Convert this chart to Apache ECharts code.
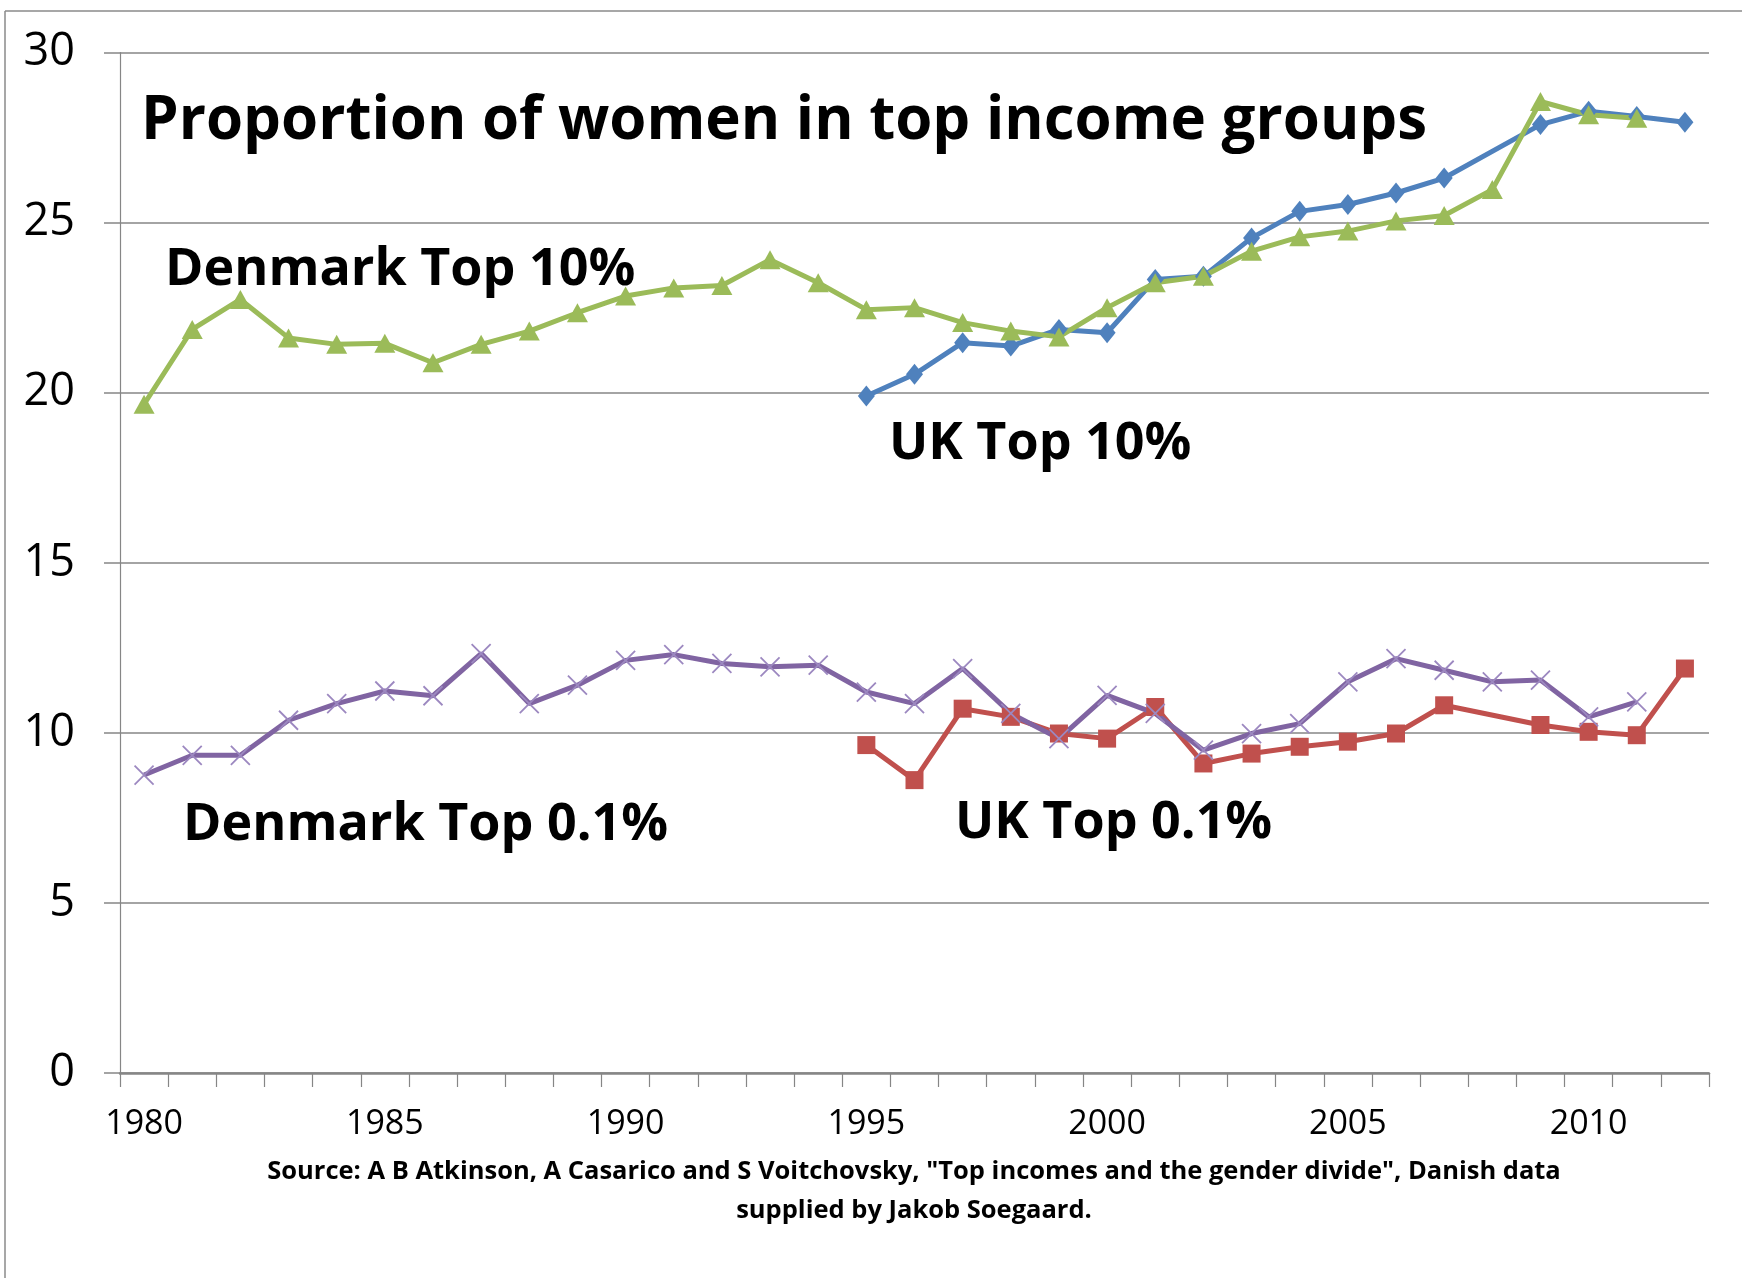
<!DOCTYPE html>
<html><head><meta charset="utf-8">
<script src="https://cdn.jsdelivr.net/npm/echarts@6/dist/echarts.min.js"></script>
<style>html,body{margin:0;padding:0;background:#fff}#c{width:1742px;height:1278px}</style>
</head><body><div id="c"></div>
<script>
const years = ['1980','1981','1982','1983','1984','1985','1986','1987','1988','1989','1990','1991','1992','1993','1994','1995','1996','1997','1998','1999','2000','2001','2002','2003','2004','2005','2006','2007','2008','2009','2010','2011','2012'];
const denmarkTop10 = [19.66,21.86,22.74,21.61,21.42,21.45,20.88,21.42,21.81,22.35,22.84,23.08,23.15,23.91,23.23,22.44,22.5,22.06,21.81,21.64,22.5,23.23,23.42,24.16,24.58,24.75,25.05,25.21,25.97,28.56,28.17,28.07,null];
const ukTop10 = [null,null,null,null,null,null,null,null,null,null,null,null,null,null,null,19.9,20.54,21.47,21.37,21.86,21.76,23.33,23.42,24.55,25.33,25.53,25.87,26.31,null,27.88,28.27,28.12,27.95];
const denmarkTop01 = [8.76,9.34,9.34,10.37,10.86,11.23,11.09,12.33,10.86,11.4,12.13,12.3,12.04,11.94,11.99,11.2,10.86,11.89,10.57,9.83,11.1,10.57,9.49,9.98,10.27,11.5,12.18,11.84,11.5,11.55,10.47,10.91,null];
const ukTop01 = [null,null,null,null,null,null,null,null,null,null,null,null,null,null,null,9.64,8.61,10.71,10.47,9.98,9.83,10.76,9.1,9.39,9.59,9.74,9.98,10.81,null,10.23,10.03,9.93,11.89];
const titleText = 'Proportion of women in top income groups';
const seriesLabels = ['Denmark Top 10%','UK Top 10%','Denmark Top 0.1%','UK Top 0.1%'];
const sourceLines = ['Source: A B Atkinson, A Casarico and S Voitchovsky, "Top incomes and the gender divide", Danish data','supplied by Jakob Soegaard.'];

const chart = echarts.init(document.getElementById('c'));
const FONT = '"Open Sans", "Liberation Sans", sans-serif';
const grey = '#868686';
const xMark = 'path://M0,0 L10,10 M10,0 L0,10';

function lineSeries(name, data, color, symbol, size, extra) {
  return Object.assign({
    name, type: 'line', data, connectNulls: true, symbol, symbolSize: size,
    lineStyle: { color, width: 5 },
    itemStyle: { color, borderColor: color, borderWidth: 0 },
    emphasis: { disabled: true }, animation: false
  }, extra || {});
}

chart.setOption({
  animation: false,
  grid: { left: 120, right: 33, top: 52.5, bottom: 205, containLabel: false },
  xAxis: {
    type: 'category', data: years, boundaryGap: true,
    axisLine: { lineStyle: { color: grey, width: 2.5 } },
    axisTick: { show: true, interval: 0, length: 14, lineStyle: { color: grey, width: 1.2 } },
    axisLabel: { interval: 4, fontSize: 34, color: '#000', margin: 34, fontFamily: FONT },
    splitLine: { show: false }
  },
  yAxis: {
    type: 'value', min: 0, max: 30, interval: 5,
    axisLine: { show: true, lineStyle: { color: grey, width: 1.2 } },
    axisTick: { show: true, length: 16, lineStyle: { color: grey, width: 1.5 } },
    axisLabel: { fontSize: 45, color: '#000', margin: 45, fontFamily: FONT },
    splitLine: { show: true, lineStyle: { color: grey, width: 1.5 } }
  },
  series: [
    lineSeries(seriesLabels[1], ukTop10, '#4F81BD', 'diamond', [17, 21]),
    lineSeries(seriesLabels[3], ukTop01, '#C0504D', 'rect', 18),
    lineSeries(seriesLabels[0], denmarkTop10, '#9BBB59', 'triangle', [21, 19]),
    lineSeries(seriesLabels[2], denmarkTop01, '#8064A2', xMark, 19, {
      itemStyle: { color: 'rgba(0,0,0,0)', borderColor: '#9C88C0', borderWidth: 1.8 }
    })
  ],
  graphic: [
    { type: 'line', shape: { x1: 5, y1: 11, x2: 1742, y2: 11 }, style: { stroke: '#8a8a8a', lineWidth: 1.5 }, silent: true },
    { type: 'line', shape: { x1: 5, y1: 11, x2: 5, y2: 1278 }, style: { stroke: '#8a8a8a', lineWidth: 1.5 }, silent: true },
    { type: 'text', left: 141, top: 92, style: { text: titleText, font: 'bold 60px ' + FONT, fill: '#000' } },
    { type: 'text', left: 165, top: 244, style: { text: seriesLabels[0], font: 'bold 52px ' + FONT, fill: '#000' } },
    { type: 'text', left: 889, top: 418, style: { text: seriesLabels[1], font: 'bold 52px ' + FONT, fill: '#000' } },
    { type: 'text', left: 183, top: 799, style: { text: seriesLabels[2], font: 'bold 52px ' + FONT, fill: '#000' } },
    { type: 'text', left: 955, top: 797, style: { text: seriesLabels[3], font: 'bold 52px ' + FONT, fill: '#000' } },
    { type: 'text', x: 914, y: 1172, style: { text: sourceLines[0], font: 'bold 25.5px ' + FONT, fill: '#000', textAlign: 'center', textVerticalAlign: 'middle' } },
    { type: 'text', x: 914, y: 1211, style: { text: sourceLines[1], font: 'bold 25.5px ' + FONT, fill: '#000', textAlign: 'center', textVerticalAlign: 'middle' } }
  ]
});
</script></body></html>
